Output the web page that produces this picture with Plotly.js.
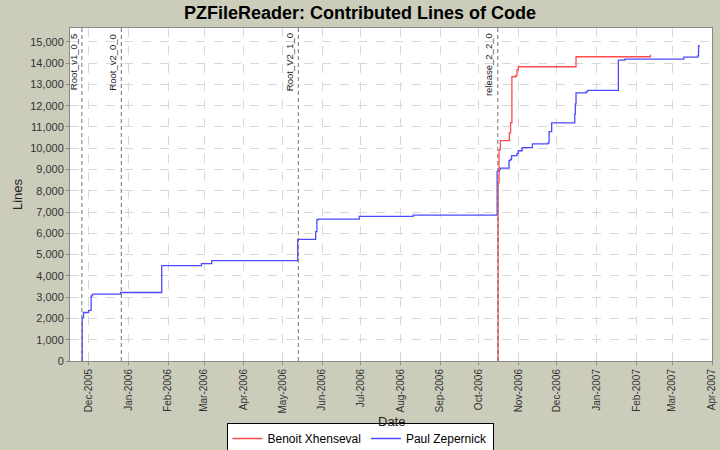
<!DOCTYPE html>
<html>
<head>
<meta charset="utf-8">
<script src="https://cdn.plot.ly/plotly-3.0.1.min.js"></script>
<style>html,body{margin:0;padding:0;background:#CCCCBB;}#chart{width:720px;height:450px;}</style>
</head>
<body>
<div id="chart"></div>
<script>
var chartTitle = "PZFileReader: Contributed Lines of Code";
var xTitle = "Date";
var yTitle = "Lines";

// Long series (blue in legend: Paul Zepernick)
var paulDates = ["2005-11-25 18:00","2005-11-26","2005-11-27","2005-12-01","2005-12-03","2005-12-04","2005-12-26",
  "2006-01-27","2006-02-27","2006-03-07","2006-05-13","2006-05-27","2006-05-28","2006-05-29","2006-06-30","2006-08-11",
  "2006-10-15 12:00","2006-10-17","2006-10-18","2006-10-24 18:00","2006-10-25 18:00","2006-10-26 18:00","2006-10-31","2006-11-01",
  "2006-11-04","2006-11-12","2006-11-24","2006-11-25","2006-11-27","2006-12-15","2006-12-15 12:00","2006-12-16","2006-12-24",
  "2006-12-25","2007-01-18","2007-01-23","2007-03-10","2007-03-21","2007-03-21 12:00","2007-03-22"];
var paulLines = [0,2030,2280,2375,3060,3140,3220,
  4485,4580,4720,5720,6080,6640,6670,6800,6860,
  8910,9000,9060,9420,9470,9650,9760,9880,
  10030,10200,10250,10780,11190,11610,12080,12600,12660,
  12720,14140,14190,14285,14345,14800,14850];

// Short series (red in legend: Benoit Xhenseval)
var benoitDates = ["2006-10-16","2006-10-16 06:00","2006-10-17","2006-10-18","2006-10-25","2006-10-26","2006-10-27",
  "2006-10-30","2006-10-31","2006-11-01","2006-12-16","2007-02-12"];
var benoitLines = [0,8380,9920,10360,10720,11200,13360,13410,13675,13830,14300,14390];

var markerDates = ["2005-11-25 18:00","2005-12-26 12:00","2006-05-13 12:00","2006-10-16"];
var markerLabels = ["Root_v1_0_5","Root_v2_0_0","Root_V2_1_0","release_2_2_0"];

var traces = [
  {x: paulDates, y: paulLines, type: "scatter", mode: "lines", name: "Paul Zepernick",
   line: {color: "#4B4BFF", width: 1.3, shape: "hv"}, legendrank: 2},
  {x: benoitDates, y: benoitLines, type: "scatter", mode: "lines", name: "Benoit Xhenseval",
   line: {color: "#FF4B4B", width: 1.3, shape: "hv"}, legendrank: 1}
];

var shapes = markerDates.map(function(d){
  return {type: "line", xref: "x", yref: "paper", x0: d, x1: d, y0: 0, y1: 1,
          line: {color: "#707070", width: 1, dash: "4px,3px"}, layer: "above"};
});
var annotations = markerDates.map(function(d, i){
  return {x: d, xref: "x", y: 0.99, yref: "paper", text: markerLabels[i], showarrow: false,
          textangle: -90, xanchor: "right", yanchor: "top", xshift: -1,
          font: {family: "Liberation Sans, Arial, sans-serif", size: 9.5, color: "#222"}};
});
annotations.push({x: 0.5, xref: "paper", y: -0.183, yref: "paper", text: xTitle, showarrow: false,
  xanchor: "center", yanchor: "middle",
  font: {family: "Liberation Sans, Arial, sans-serif", size: 13, color: "#222"}});

var layout = {
  width: 720, height: 450,
  paper_bgcolor: "#CCCCBB", plot_bgcolor: "#FFFFFF",
  margin: {l: 70, r: 8, t: 28, b: 89, autoexpand: false},
  font: {family: "Liberation Sans, Arial, sans-serif", size: 11, color: "#333"},
  title: {text: "<b>" + chartTitle + "</b>", x: 0.5, xref: "container", y: 0.972, yref: "container",
          xanchor: "center", yanchor: "middle",
          font: {family: "Liberation Sans, Arial, sans-serif", size: 18, color: "#000"}},
  xaxis: {type: "date", range: ["2005-11-16 12:00", "2007-04-01"], automargin: false,
          tick0: "2005-12-01", dtick: "M1", tickformat: "%b-%Y", tickangle: -90,
          ticks: "outside", ticklen: 3, tickcolor: "#888",
          showgrid: true, gridcolor: "#D8D8D8", griddash: "dash", gridwidth: 1,
          showline: true, linecolor: "#888", linewidth: 1, mirror: true, zeroline: false,
          tickfont: {size: 10, color: "#333"}},
  yaxis: {range: [0, 15650], dtick: 1000, tickformat: ",d", automargin: false,
          ticks: "outside", ticklen: 3, tickcolor: "#888",
          showgrid: true, gridcolor: "#D8D8D8", griddash: "dash", gridwidth: 1,
          showline: true, linecolor: "#888", linewidth: 1, mirror: true, zeroline: false,
          tickfont: {size: 11, color: "#333"},
          title: {text: yTitle, standoff: 4, font: {size: 13, color: "#222"}}},
  showlegend: true,
  legend: {orientation: "h", x: 0.5, xref: "container", xanchor: "center",
           y: 0.06, yref: "container", yanchor: "top",
           bgcolor: "#FFFFFF", bordercolor: "#000", borderwidth: 1,
           font: {size: 12, color: "#000"}, itemwidth: 30, tracegroupgap: 0},
  shapes: shapes,
  annotations: annotations
};

Plotly.newPlot("chart", traces, layout, {displayModeBar: false, staticPlot: true});
</script>
</body>
</html>
